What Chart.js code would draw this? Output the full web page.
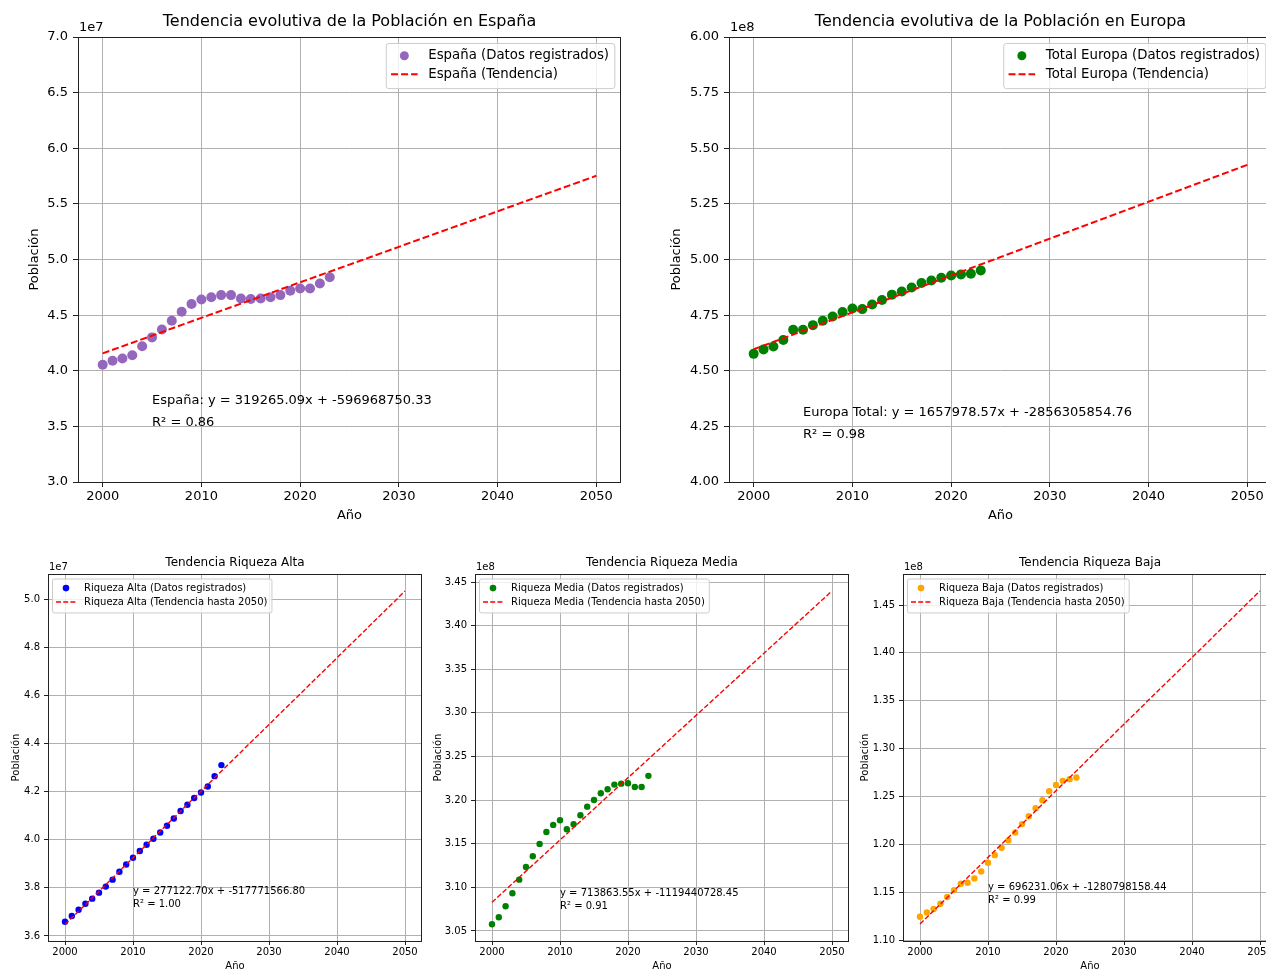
<!DOCTYPE html>
<html>
<head>
<meta charset="utf-8">
<script src="https://cdn.jsdelivr.net/npm/chart.js@4.4.1/dist/chart.umd.min.js"></script>
<style>
html, body { margin: 0; padding: 0; background: #fff; overflow: hidden; }
#wrap { position: relative; width: 1300px; height: 970px; }
canvas { position: absolute; }
</style>
</head>
<body>
<div id="wrap">
  <canvas id="cEspana"></canvas>
  <canvas id="cEuropa"></canvas>
  <canvas id="cAlta"></canvas>
  <canvas id="cMedia"></canvas>
  <canvas id="cBaja"></canvas>
</div>
<script>
// años registrados y tramo de tendencia
const years = [2000, 2001, 2002, 2003, 2004, 2005, 2006, 2007, 2008, 2009, 2010, 2011,
               2012, 2013, 2014, 2015, 2016, 2017, 2018, 2019, 2020, 2021, 2022, 2023];
const trendYears = [2000, 2050];
const xTicks = [2000, 2010, 2020, 2030, 2040, 2050];

// población registrada
const espana = [40540000, 40900000, 41100000, 41400000, 42200000, 43000000, 43700000, 44500000,
                45300000, 46000000, 46400000, 46600000, 46800000, 46800000, 46500000, 46450000,
                46500000, 46600000, 46800000, 47200000, 47400000, 47400000, 47850000, 48400000];
const europa = [457600000, 459600000, 460900000, 463800000, 468400000, 468400000, 470500000, 472500000,
                474400000, 476400000, 478000000, 477700000, 479800000, 481800000, 484200000, 485600000,
                487400000, 489400000, 490600000, 491800000, 492800000, 493300000, 493600000, 495100000];
const alta = [36590000, 36830000, 37090000, 37340000, 37550000, 37800000, 38050000, 38340000,
              38670000, 38970000, 39250000, 39530000, 39790000, 40040000, 40300000, 40580000,
              40880000, 41190000, 41450000, 41730000, 41960000, 42210000, 42640000, 43100000];
const media = [305770000, 306570000, 307830000, 309320000, 310880000, 312340000, 313570000, 314980000,
               316350000, 317160000, 317690000, 316660000, 317240000, 318270000, 319250000, 320020000,
               320790000, 321250000, 321780000, 321890000, 321940000, 321510000, 321510000, 322780000];
const baja = [112430000, 112890000, 113240000, 113790000, 114490000, 115220000, 115880000, 115980000,
              116440000, 117170000, 118070000, 118870000, 119630000, 120410000, 121240000, 122110000,
              122940000, 123780000, 124610000, 125550000, 126210000, 126630000, 126810000, 126980000];

// tendencia en 2000 y 2050
const espanaTrend = [41561430, 57524684];
const europaTrend = [459651285, 542550214];
const altaTrend = [36473833, 50329968];
const mediaTrend = [308286371, 343979549];
const bajaTrend = [111663962, 146475515];

// marcas del eje y (en unidades de 1e7 / 1e8)
const espanaTicks = [3.0, 3.5, 4.0, 4.5, 5.0, 5.5, 6.0, 6.5, 7.0];
const europaTicks = [4.00, 4.25, 4.50, 4.75, 5.00, 5.25, 5.50, 5.75, 6.00];
const altaTicks = [3.6, 3.8, 4.0, 4.2, 4.4, 4.6, 4.8, 5.0];
const mediaTicks = [3.05, 3.10, 3.15, 3.20, 3.25, 3.30, 3.35, 3.40, 3.45];
const bajaTicks = [1.10, 1.15, 1.20, 1.25, 1.30, 1.35, 1.40, 1.45];

const FONT = '"DejaVu Sans", sans-serif';
Chart.defaults.font.family = FONT;
Chart.defaults.color = '#000';

function makeDecor(cfg) {
  return {
    id: 'decor',
    afterDraw(chart) {
      const ctx = chart.ctx, a = chart.chartArea, s = cfg.style;
      ctx.save();
      // marco de los ejes
      ctx.strokeStyle = '#222';
      ctx.lineWidth = 1;
      ctx.strokeRect(Math.round(a.left) + 0.5, Math.round(a.top) + 0.5,
                     Math.round(a.right - a.left) - 1, Math.round(a.bottom - a.top));
      ctx.fillStyle = '#000';
      // titulo
      ctx.font = s.title + 'px ' + FONT;
      ctx.textAlign = 'center';
      ctx.textBaseline = 'middle';
      ctx.fillText(cfg.title, (a.left + a.right) / 2, a.top - s.titleOff);
      // texto de escala
      ctx.font = s.fs + 'px ' + FONT;
      ctx.textAlign = 'left';
      ctx.fillText(cfg.exp, a.left + 1, a.top - s.expOff);
      // etiquetas de los ejes
      ctx.textAlign = 'center';
      ctx.fillText('Año', (a.left + a.right) / 2, a.bottom + s.xlabOff);
      ctx.save();
      ctx.translate(a.left - cfg.ylabOff, (a.top + a.bottom) / 2);
      ctx.rotate(-Math.PI / 2);
      ctx.fillText('Población', 0, 0);
      ctx.restore();
      // ecuacion
      ctx.textAlign = 'left';
      ctx.textBaseline = 'alphabetic';
      const ax = chart.scales.x.getPixelForValue(cfg.annot.x);
      const ay = chart.scales.y.getPixelForValue(cfg.annot.y);
      for (let i = 0; i < cfg.annotLines.length; i++) {
        const k = cfg.annotLines.length - 1 - i;
        ctx.fillText(cfg.annotLines[i], ax, ay - k * s.annotGap);
      }
      // leyenda
      const fs = s.legFs;
      ctx.font = fs + 'px ' + FONT;
      const ds = chart.data.datasets;
      const tw = Math.max(...ds.map(d => ctx.measureText(d.label).width));
      const pad = 0.4 * fs, hl = 2 * fs, htp = 0.8 * fs, rowH = 1.385 * fs;
      const w = pad * 2 + hl + htp + tw;
      const h = 2.01 * fs + rowH * (ds.length - 1);
      const lx = cfg.legendPos === 'right' ? a.right - 0.5 * fs - w : a.left + 0.4 * fs;
      const ly = a.top + 0.45 * fs;
      ctx.beginPath();
      ctx.roundRect(lx + 0.5, ly + 0.5, w, h, 0.2 * fs);
      ctx.fillStyle = 'rgba(255,255,255,0.8)';
      ctx.fill();
      ctx.strokeStyle = '#cccccc';
      ctx.stroke();
      ds.forEach((d, i) => {
        const ry = ly + 0.96 * fs + i * rowH;
        if (d.showLine) {
          ctx.strokeStyle = d.borderColor;
          ctx.lineWidth = d.borderWidth;
          ctx.setLineDash(d.borderDash);
          ctx.beginPath();
          ctx.moveTo(lx + pad, ry);
          ctx.lineTo(lx + pad + hl, ry);
          ctx.stroke();
          ctx.setLineDash([]);
        } else {
          ctx.fillStyle = d.backgroundColor;
          ctx.beginPath();
          ctx.arc(lx + pad + hl / 2, ry, s.legR, 0, Math.PI * 2);
          ctx.fill();
        }
        ctx.fillStyle = '#000';
        ctx.textBaseline = 'middle';
        ctx.fillText(d.label, lx + pad + hl + htp, ry);
      });
      ctx.restore();
    }
  };
}

const bigStyle = { fs: 13, legFs: 13.3, title: 16, titleOff: 15, expOff: 9, xlabOff: 34, annotGap: 22,
                   tickLen: 5, xPad: 2, yPad: 5, r: 5, legR: 4.5, lw: 2, dash: [7, 3] };
const smallStyle = { fs: 10, legFs: 10, title: 12, titleOff: 11, expOff: 7, xlabOff: 25, annotGap: 13,
                     tickLen: 4, xPad: 1, yPad: 4, r: 3.2, legR: 3.3, lw: 1.4, dash: [5, 2.2] };

function buildChart(cfg) {
  const s = cfg.style;
  const [bx, by, bw, bh] = cfg.box;
  const [al, at, ar, ab] = cfg.area;
  const cv = document.getElementById(cfg.id);
  cv.width = bw; cv.height = bh;
  cv.style.left = bx + 'px'; cv.style.top = by + 'px';
  const tickVals = cfg.ticks.map(t => t * cfg.unit);
  new Chart(cv, {
    type: 'scatter',
    data: {
      datasets: [{
        label: cfg.labels[0],
        data: years.map((yr, i) => ({ x: yr, y: cfg.values[i] })),
        backgroundColor: cfg.color,
        borderWidth: 0,
        pointRadius: s.r,
        order: 1
      }, {
        label: cfg.labels[1],
        data: trendYears.map((yr, i) => ({ x: yr, y: cfg.trend[i] })),
        showLine: true,
        borderColor: 'red',
        borderWidth: s.lw,
        borderDash: s.dash,
        pointRadius: 0,
        order: 0
      }]
    },
    options: {
      responsive: false,
      animation: false,
      devicePixelRatio: 1,
      layout: { padding: { top: at - by, right: bx + bw - ar, left: 0, bottom: 0 } },
      plugins: { legend: { display: false }, tooltip: { enabled: false } },
      scales: {
        x: {
          type: 'linear', min: 1997.5, max: 2052.5,
          afterBuildTicks: sc => { sc.ticks = xTicks.map(v => ({ value: v })); },
          afterFit: sc => { sc.height = by + bh - ab; },
          grid: { color: '#b0b0b0', lineWidth: 1, tickLength: s.tickLen, tickColor: '#222' },
          border: { display: false },
          ticks: { font: { size: s.fs }, color: '#000', padding: s.xPad, maxRotation: 0,
                   callback: v => String(v) }
        },
        y: {
          type: 'linear', min: cfg.yMin, max: cfg.yMax,
          afterBuildTicks: sc => { sc.ticks = tickVals.map(v => ({ value: v })); },
          afterFit: sc => { sc.width = al - bx; },
          grid: { color: '#b0b0b0', lineWidth: 1, tickLength: s.tickLen, tickColor: '#222' },
          border: { display: false },
          ticks: { font: { size: s.fs }, color: '#000', padding: s.yPad,
                   callback: v => (v / cfg.unit).toFixed(cfg.dec) }
        }
      }
    },
    plugins: [makeDecor(cfg)]
  });
}

buildChart({
  id: 'cEspana', style: bigStyle, box: [0, 0, 640, 530], area: [78, 37, 621, 482],
  values: espana, trend: espanaTrend, ticks: espanaTicks, unit: 1e7, dec: 1, exp: '1e7',
  yMin: 3e7, yMax: 7e7, color: '#9467bd', ylabOff: 43, legendPos: 'right',
  labels: ['España (Datos registrados)', 'España (Tendencia)'],
  title: 'Tendencia evolutiva de la Población en España',
  annotLines: ['España: y = 319265.09x + -596968750.33', 'R² = 0.86'],
  annot: { x: 2005, y: 3.5e7 }
});

buildChart({
  id: 'cEuropa', style: bigStyle, box: [645, 0, 645, 530], area: [729, 37, 1272, 482],
  values: europa, trend: europaTrend, ticks: europaTicks, unit: 1e8, dec: 2, exp: '1e8',
  yMin: 4e8, yMax: 6e8, color: '#008000', ylabOff: 52, legendPos: 'right',
  labels: ['Total Europa (Datos registrados)', 'Total Europa (Tendencia)'],
  title: 'Tendencia evolutiva de la Población en Europa',
  annotLines: ['Europa Total: y = 1657978.57x + -2856305854.76', 'R² = 0.98'],
  annot: { x: 2005, y: 4.2e8 }
});

buildChart({
  id: 'cAlta', style: smallStyle, box: [0, 545, 430, 425], area: [48, 574, 422, 941],
  values: alta, trend: altaTrend, ticks: altaTicks, unit: 1e7, dec: 1, exp: '1e7',
  yMin: 3.579e7, yMax: 5.104e7, color: '#0000ff', ylabOff: 32, legendPos: 'left',
  labels: ['Riqueza Alta (Datos registrados)', 'Riqueza Alta (Tendencia hasta 2050)'],
  title: 'Tendencia Riqueza Alta',
  annotLines: ['y = 277122.70x + -517771566.80', 'R² = 1.00'],
  annot: { x: 2010, y: 3.72e7 }
});

buildChart({
  id: 'cMedia', style: smallStyle, box: [430, 545, 430, 425], area: [475, 574, 849, 941],
  values: media, trend: mediaTrend, ticks: mediaTicks, unit: 1e8, dec: 2, exp: '1e8',
  yMin: 3.0385e8, yMax: 3.4592e8, color: '#008000', ylabOff: 37, legendPos: 'left',
  labels: ['Riqueza Media (Datos registrados)', 'Riqueza Media (Tendencia hasta 2050)'],
  title: 'Tendencia Riqueza Media',
  annotLines: ['y = 713863.55x + -1119440728.45', 'R² = 0.91'],
  annot: { x: 2010, y: 3.0747e8 }
});

buildChart({
  id: 'cBaja', style: smallStyle, box: [855, 545, 445, 425], area: [903, 574, 1277, 941],
  values: baja, trend: bajaTrend, ticks: bajaTicks, unit: 1e8, dec: 2, exp: '1e8',
  yMin: 1.099e8, yMax: 1.4824e8, color: '#ffa500', ylabOff: 38, legendPos: 'left',
  labels: ['Riqueza Baja (Datos registrados)', 'Riqueza Baja (Tendencia hasta 2050)'],
  title: 'Tendencia Riqueza Baja',
  annotLines: ['y = 696231.06x + -1280798158.44', 'R² = 0.99'],
  annot: { x: 2010, y: 1.1391e8 }
});
</script>
</body>
</html>
